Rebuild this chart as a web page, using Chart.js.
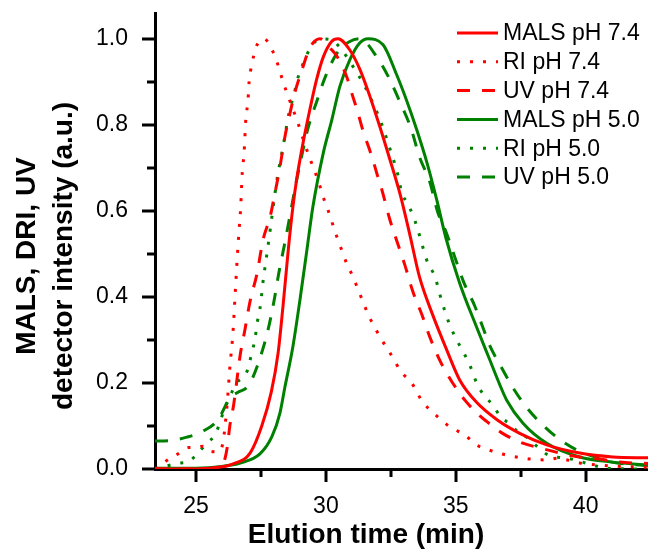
<!DOCTYPE html>
<html>
<head>
<meta charset="utf-8">
<script src="https://cdn.jsdelivr.net/npm/chart.js@4.4.0/dist/chart.umd.min.js"></script>
<style>
  html, body { margin: 0; padding: 0; background: #fff; }
  #wrap { width: 648px; height: 549px; }
</style>
</head>
<body>
<div id="wrap"><canvas id="chart" width="648" height="549"></canvas></div>
<script>
// elution time (min) / normalised detector intensity

// MALS pH 7.4
const malsTime74 = [23.42, 25.0, 26.0, 26.43, 27.08, 27.53, 27.9, 28.16, 28.35, 28.55, 28.73, 28.87, 29.12, 29.38, 29.64, 29.9, 30.22, 30.47, 30.92, 31.3, 31.7, 32.08, 32.46, 32.85, 33.23, 33.6, 34.1, 34.65, 35.15, 35.8, 36.6, 37.46, 38.5, 39.77, 41.04, 42.4]
const malsInt74 = [0, 0, 0.005, 0.012, 0.037, 0.1, 0.18, 0.27, 0.38, 0.509, 0.61, 0.672, 0.758, 0.835, 0.905, 0.958, 0.994, 1.0, 0.974, 0.93, 0.865, 0.795, 0.72, 0.64, 0.545, 0.447, 0.36, 0.277, 0.207, 0.155, 0.114, 0.083, 0.056, 0.037, 0.028, 0.026]

// RI pH 7.4
const riTime74 = [23.42, 23.6, 23.88, 24.3, 24.73, 25.03, 25.27, 25.5, 25.85, 26.04, 26.2, 26.3, 26.42, 26.5, 26.58, 26.65, 26.72, 26.78, 26.85, 26.92, 27.0, 27.04, 27.15, 27.3, 27.62, 27.96, 28.15, 28.35, 28.5, 28.92, 29.08, 29.35, 29.54, 29.73, 29.92, 30.08, 30.27, 30.42, 30.6, 30.8, 31.04, 31.2, 31.42, 31.65, 31.9, 32.15, 32.4, 32.6, 32.9, 33.3, 33.7, 33.96, 34.35, 34.73, 35.08, 35.4, 35.73, 36.1, 36.38, 36.77, 37.15, 37.54, 37.9, 38.5, 38.9, 39.3, 39.77, 40.6, 41.04, 41.8, 42.4]
const riInt74 = [0, 0.005, 0.02, 0.035, 0.05, 0.05, 0.053, 0.042, 0.04, 0.063, 0.153, 0.235, 0.316, 0.4, 0.484, 0.55, 0.61, 0.69, 0.735, 0.816, 0.856, 0.898, 0.94, 0.979, 1.0, 0.97, 0.94, 0.9, 0.874, 0.805, 0.775, 0.727, 0.697, 0.665, 0.628, 0.602, 0.567, 0.54, 0.51, 0.478, 0.447, 0.423, 0.39, 0.356, 0.327, 0.3, 0.277, 0.256, 0.226, 0.2, 0.158, 0.14, 0.119, 0.1, 0.088, 0.077, 0.058, 0.048, 0.042, 0.035, 0.03, 0.026, 0.023, 0.021, 0.025, 0.021, 0.014, 0.009, 0.007, 0.005, 0.004]

// UV pH 7.4
const uvTime74 = [23.42, 25.0, 25.9, 26.04, 26.2, 26.3, 26.45, 26.7, 26.88, 27.08, 27.35, 27.58, 27.85, 28.04, 28.23, 28.42, 28.62, 28.8, 29.08, 29.38, 29.77, 30.15, 30.42, 30.8, 31.04, 31.2, 31.42, 31.77, 32.0, 32.15, 32.46, 32.73, 33.04, 33.35, 33.7, 34.0, 34.38, 34.65, 34.88, 35.35, 35.92, 36.2, 36.77, 37.58, 38.23, 39.0, 39.77, 40.54, 41.3, 42.4]
const uvInt74 = [0, 0, 0.002, 0.01, 0.05, 0.1, 0.15, 0.265, 0.323, 0.39, 0.455, 0.533, 0.586, 0.642, 0.702, 0.772, 0.828, 0.874, 0.928, 0.979, 1.0, 0.979, 0.96, 0.912, 0.865, 0.835, 0.788, 0.726, 0.679, 0.65, 0.58, 0.53, 0.474, 0.412, 0.358, 0.307, 0.253, 0.223, 0.2, 0.16, 0.124, 0.11, 0.084, 0.06, 0.049, 0.037, 0.028, 0.023, 0.016, 0.013]

// MALS pH 5.0
const malsTime50 = [23.42, 25.0, 26.0, 26.7, 27.46, 27.92, 28.23, 28.42, 28.73, 29.0, 29.27, 29.5, 29.9, 30.22, 30.54, 30.92, 31.3, 31.62, 32.2, 32.7, 33.1, 33.5, 33.9, 34.27, 34.62, 35.15, 35.8, 36.3, 36.7, 36.96, 37.58, 38.5, 39.77, 41.04, 42.4]
const malsInt50 = [0.002, 0.002, 0.006, 0.014, 0.035, 0.075, 0.13, 0.19, 0.285, 0.393, 0.51, 0.61, 0.735, 0.81, 0.89, 0.951, 0.99, 1.0, 0.986, 0.92, 0.858, 0.788, 0.71, 0.625, 0.537, 0.432, 0.33, 0.255, 0.195, 0.16, 0.107, 0.06, 0.028, 0.016, 0.009]

// RI pH 5.0
const riTime50 = [23.42, 23.88, 24.27, 24.7, 25.03, 25.38, 25.75, 26.1, 26.57, 26.95, 27.12, 27.27, 27.37, 27.49, 27.56, 27.65, 27.75, 27.95, 28.12, 28.35, 28.58, 28.77, 28.92, 29.15, 29.42, 29.8, 30.19, 30.6, 31.1, 31.42, 31.7, 31.96, 32.2, 32.38, 32.58, 32.77, 32.92, 33.1, 33.35, 33.54, 33.73, 33.92, 34.2, 34.38, 34.58, 34.8, 35.08, 35.35, 35.62, 35.8, 36.08, 36.42, 36.73, 37.08, 37.4, 37.77, 38.15, 38.54, 39.08, 39.46, 40.27, 40.8, 42.4]
const riInt50 = [0, 0.007, 0.013, 0.017, 0.034, 0.058, 0.082, 0.14, 0.2, 0.225, 0.263, 0.303, 0.345, 0.385, 0.426, 0.467, 0.509, 0.6, 0.674, 0.749, 0.828, 0.87, 0.909, 0.946, 0.981, 1.0, 0.998, 0.975, 0.93, 0.898, 0.865, 0.83, 0.793, 0.76, 0.723, 0.684, 0.642, 0.621, 0.59, 0.556, 0.516, 0.479, 0.447, 0.407, 0.367, 0.33, 0.295, 0.265, 0.23, 0.2, 0.172, 0.149, 0.121, 0.105, 0.086, 0.072, 0.051, 0.033, 0.026, 0.023, 0.009, 0.002, 0]

// UV pH 5.0
const uvTime50 = [23.42, 24.0, 24.65, 25.27, 25.85, 26.3, 26.6, 26.96, 27.2, 27.42, 27.75, 28.0, 28.2, 28.4, 28.62, 28.85, 29.04, 29.3, 29.65, 30.0, 30.46, 30.9, 31.3, 31.96, 32.42, 32.85, 33.27, 33.6, 34.0, 34.3, 34.65, 34.96, 35.3, 35.73, 36.08, 36.3, 36.77, 37.23, 37.77, 38.42, 39.04, 39.8, 40.5, 41.0, 42.4]
const uvInt50 = [0.065, 0.066, 0.074, 0.088, 0.115, 0.165, 0.178, 0.19, 0.215, 0.25, 0.318, 0.39, 0.46, 0.52, 0.59, 0.665, 0.72, 0.79, 0.855, 0.915, 0.97, 0.993, 1.0, 0.958, 0.91, 0.853, 0.793, 0.726, 0.667, 0.598, 0.547, 0.493, 0.435, 0.379, 0.323, 0.288, 0.235, 0.186, 0.14, 0.098, 0.067, 0.04, 0.025, 0.016, 0.008]

const seriesLabels = ['MALS pH 7.4', 'RI pH 7.4', 'UV pH 7.4', 'MALS pH 5.0', 'RI pH 5.0', 'UV pH 5.0']
const xTickValues = [25, 30, 35, 40]
const yTickValues = [0, 0.2, 0.4, 0.6, 0.8, 1.0]

const RED = '#ff0000'
const GREEN = '#008000'
const DOTS = [3, 10]
const DASHES = [13, 12]

function pairs(xs, ys) {
    return xs.map((x, i) => ({x: x, y: ys[i]}))
}

function trace(label, xs, ys, color, dash) {
    return {
        label: label,
        data: pairs(xs, ys),
        borderColor: color,
        backgroundColor: color,
        borderWidth: 3,
        borderDash: dash,
        borderCapStyle: 'butt',
        pointRadius: 0,
        fill: false,
        cubicInterpolationMode: 'monotone'
    }
}

const datasets = [
    trace(seriesLabels[0], malsTime74, malsInt74, RED, []),
    trace(seriesLabels[1], riTime74, riInt74, RED, DOTS),
    trace(seriesLabels[2], uvTime74, uvInt74, RED, DASHES),
    trace(seriesLabels[3], malsTime50, malsInt50, GREEN, []),
    trace(seriesLabels[4], riTime50, riInt50, GREEN, DOTS),
    trace(seriesLabels[5], uvTime50, uvInt50, GREEN, DASHES)
]

const FONT = "'Liberation Sans', Arial, sans-serif"

//tick marks (long at labels, short halfway), axis titles and legend
const decorations = {
    id: 'decorations',
    afterDraw(chart) {
        const ctx = chart.ctx
        const area = chart.chartArea
        const x = chart.scales.x
        const y = chart.scales.y
        ctx.save()
        ctx.fillStyle = '#000'
        const xMarks = []
        const yMarks = []
        for (let i = 0; i < xTickValues.length; i++) {
            xMarks.push([xTickValues[i], 12])
            if (i < xTickValues.length - 1) xMarks.push([(xTickValues[i] + xTickValues[i + 1]) / 2, 7])
        }
        for (let i = 0; i < yTickValues.length; i++) {
            yMarks.push([yTickValues[i], 12])
            if (i < yTickValues.length - 1) yMarks.push([(yTickValues[i] + yTickValues[i + 1]) / 2, 7])
        }
        xMarks.forEach(m => {
            const px = Math.round(x.getPixelForValue(m[0]))
            ctx.fillRect(px - 1.5, area.bottom, 3, m[1] + 1)
        })
        yMarks.forEach(m => {
            const py = Math.round(y.getPixelForValue(m[0]))
            ctx.fillRect(area.left - m[1] - 1, py - 1.5, m[1] + 1, 3)
        })

        // axis titles
        ctx.font = "bold 28px " + FONT
        ctx.textAlign = 'center'
        ctx.textBaseline = 'alphabetic'
        ctx.fillText('Elution time (min)', 366, 543)
        ctx.save()
        ctx.translate(35, 256)
        ctx.rotate(-Math.PI / 2)
        ctx.fillText('MALS, DRI, UV', 0, 0)
        ctx.restore()
        ctx.save()
        ctx.translate(72, 256)
        ctx.rotate(-Math.PI / 2)
        ctx.fillText('detector intensity (a.u.)', 0, 0)
        ctx.restore()

        // legend
        ctx.font = "23px " + FONT
        ctx.textAlign = 'left'
        ctx.textBaseline = 'middle'
        chart.data.datasets.forEach((ds, i) => {
            const ly = 33 + i * 28.8
            ctx.strokeStyle = ds.borderColor
            ctx.lineWidth = ds.borderWidth
            ctx.lineCap = 'butt'
            ctx.setLineDash(ds.borderDash)
            ctx.beginPath()
            ctx.moveTo(457, ly)
            ctx.lineTo(498, ly)
            ctx.stroke()
            ctx.setLineDash([])
            ctx.fillStyle = '#000'
            ctx.fillText(ds.label, 503, ly + 1)
        })
        ctx.restore()
    }
}

const axisGrid = {
    display: true,
    drawOnChartArea: false,
    drawTicks: true,
    tickLength: 12,
    tickColor: 'rgba(0,0,0,0)'
}

new Chart(document.getElementById('chart').getContext('2d'), {
    type: 'line',
    data: { datasets: datasets },
    options: {
        responsive: false,
        animation: false,
        devicePixelRatio: 1,
        layout: { padding: { top: 13, right: 0, left: 0, bottom: 0 } },
        plugins: {
            legend: { display: false },
            tooltip: { enabled: false }
        },
        scales: {
            x: {
                type: 'linear',
                min: 23.42,
                max: 42.4,
                grid: axisGrid,
                border: { display: true, color: '#000', width: 3 },
                afterBuildTicks: s => { s.ticks = xTickValues.map(v => ({value: v})) },
                afterFit: s => { s.height = 80; s.paddingLeft = 0; s.paddingRight = 0 },
                ticks: {
                    color: '#000',
                    padding: 12,
                    maxRotation: 0,
                    font: { family: FONT, size: 23 },
                    callback: v => String(v)
                }
            },
            y: {
                type: 'linear',
                min: 0,
                max: 1.06,
                grid: axisGrid,
                border: { display: true, color: '#000', width: 3 },
                afterBuildTicks: s => { s.ticks = yTickValues.map(v => ({value: v})) },
                afterFit: s => { s.width = 155; s.paddingTop = 0; s.paddingBottom = 0 },
                ticks: {
                    color: '#000',
                    padding: 15,
                    font: { family: FONT, size: 23 },
                    callback: v => Number(v).toFixed(1)
                }
            }
        }
    },
    plugins: [decorations]
})
</script>
</body>
</html>
